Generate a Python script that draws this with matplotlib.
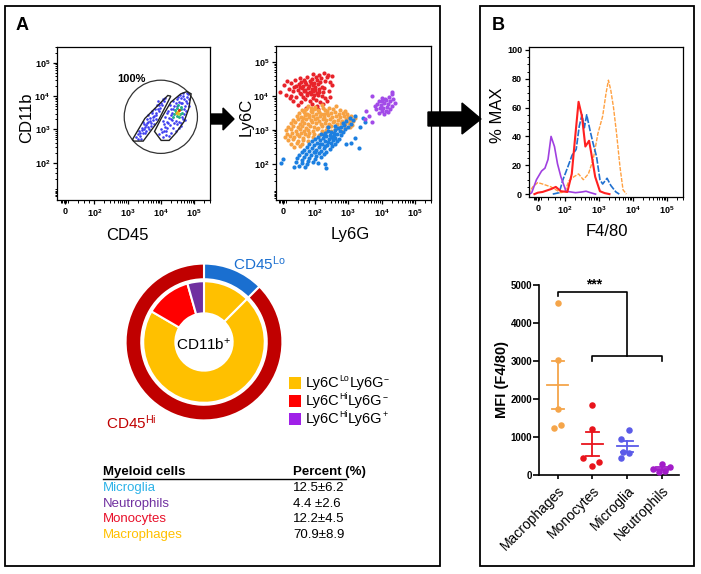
import numpy as np
import matplotlib
matplotlib.use("Agg")
import matplotlib.pyplot as plt
from matplotlib.patches import Rectangle, Polygon, Circle

plt.rcParams['font.family'] = ['Liberation Sans', 'DejaVu Sans']
plt.rcParams['mathtext.fontset'] = 'custom'
plt.rcParams['mathtext.rm'] = 'Liberation Sans'
plt.rcParams['mathtext.it'] = 'Liberation Sans:italic'
plt.rcParams['mathtext.bf'] = 'Liberation Sans:bold'


def pts(s):
    a = np.array(s.split(), dtype=float).reshape(-1, 2)
    return a[:, 0], a[:, 1]


# ---------------- data (log10 decades) ----------------
# CD45 / CD11b events, panel A first dot plot
cd11b_left_gate = """
3.25 2.76 3.30 2.85 3.38 2.80 3.35 2.95 3.45 2.90 3.42 3.05 3.50 3.00 3.55 3.12
3.48 3.15 3.60 3.08 3.62 3.22 3.70 3.18 3.58 3.30 3.68 3.35 3.75 3.28 3.80 3.40
3.72 3.48 3.85 3.50 3.90 3.62 3.82 3.60 3.95 3.72 4.00 3.80 3.92 3.85 4.05 3.90
4.12 3.95 3.65 3.00 3.52 2.88 3.40 2.72 3.78 3.15 3.86 3.30 3.30 2.70 3.62 3.42
3.98 3.65 3.46 3.22 3.56 2.96 3.70 3.10 3.88 3.72 4.08 3.85 3.36 2.88 3.44 2.98
3.58 3.18 3.66 3.26 3.76 3.38 3.84 3.44 3.93 3.56 4.02 3.72 3.53 3.06 3.74 3.54
"""
cd11b_right_gate = """
3.95 2.85 4.05 2.78 4.15 2.82 4.00 3.00 4.10 2.95 4.20 3.05 4.30 2.90 4.08 3.15
4.18 3.22 4.28 3.12 4.38 3.05 4.45 2.95 4.25 3.35 4.35 3.28 4.60 3.20 4.55 3.05
4.35 3.50 4.70 3.45 4.72 3.70 4.65 3.80 4.55 3.82 4.45 3.78 4.60 3.95 4.70 3.90
4.78 3.98 4.80 3.80 4.75 3.55 4.68 3.30 4.50 3.90 4.40 3.70 4.20 3.48 4.12 3.38
4.30 3.62 4.82 4.05 4.15 2.95 4.22 3.55 4.05 3.25 4.25 2.80 4.50 3.15 4.62 3.10
4.85 3.70 4.78 4.10 4.40 3.18 4.32 3.42 4.58 4.02 4.68 4.08 4.02 2.92 4.12 3.06
4.22 3.20 4.30 3.30 4.38 3.62 4.48 3.70 4.62 3.78 4.70 3.62 4.76 3.85 4.66 4.00
4.52 3.96 4.36 3.84 4.28 3.72 4.46 3.26 4.56 3.22 4.64 3.38 4.74 3.28 4.84 3.90
"""
cd11b_core_green = """
4.40 3.45 4.48 3.40 4.55 3.38 4.50 3.64 4.60 3.60 4.62 3.68 4.42 3.58 4.52 3.72
4.65 3.50 4.45 3.52 4.58 3.45 4.38 3.36
"""
cd11b_core_hot = "4.52 3.52 4.56 3.57 4.49 3.48 4.54 3.46"

# Ly6G / Ly6C events, panel A second dot plot
ly6_red = """
1.95 4.66 2.12 4.62 2.27 4.68 2.41 4.63 2.52 4.58 1.56 4.54 1.79 4.57 1.91 4.51
2.04 4.56 2.19 4.52 2.36 4.55 1.18 4.43 1.41 4.47 1.61 4.41 1.69 4.48 1.86 4.44
1.97 4.39 2.06 4.47 2.16 4.42 2.31 4.45 2.47 4.40 1.09 4.33 1.31 4.37 1.46 4.31
1.54 4.36 1.66 4.30 1.76 4.36 1.84 4.29 1.94 4.33 2.11 4.35 2.21 4.28 2.51 4.32
1.24 4.22 1.39 4.26 1.51 4.19 1.63 4.24 1.73 4.18 1.81 4.25 1.91 4.21 2.01 4.26
2.14 4.20 2.29 4.23 0.98 4.12 1.36 4.14 1.56 4.10 1.69 4.16 1.86 4.11 1.96 4.15
2.06 4.09 2.26 4.13 2.43 4.16 1.14 4.04 1.29 4.01 1.61 4.05 1.79 4.02 1.89 4.07
2.09 4.03 2.21 3.99 1.26 3.94 1.44 3.97 1.71 3.92 1.96 3.95 2.04 3.89 2.31 3.93
2.46 3.97 1.36 3.86 1.59 3.83 1.86 3.85 2.16 3.81 2.36 3.86 1.51 3.74 1.91 3.77
2.06 3.71 2.26 3.75 1.76 3.64 2.11 3.62 1.72 4.40 1.88 4.37 1.58 4.27 2.00 4.19
1.77 4.08 1.67 3.98 2.13 4.12 1.98 4.02
"""
ly6_orange = """
1.80 3.71 2.02 3.68 2.21 3.73 2.42 3.66 2.63 3.70 1.62 3.58 1.75 3.63 1.88 3.57
1.99 3.62 2.10 3.59 2.25 3.64 2.38 3.57 2.55 3.61 2.75 3.58 2.90 3.55 1.55 3.49
1.68 3.53 1.79 3.47 1.92 3.52 2.03 3.48 2.14 3.54 2.27 3.46 2.36 3.51 2.48 3.49
2.61 3.53 2.72 3.47 2.85 3.50 2.98 3.46 1.48 3.41 1.60 3.37 1.72 3.43 1.83 3.38
1.95 3.42 2.06 3.36 2.17 3.41 2.29 3.39 2.40 3.43 2.52 3.37 2.63 3.42 2.76 3.38
2.88 3.41 2.99 3.37 3.10 3.40 3.20 3.36 1.35 3.29 1.50 3.32 1.63 3.27 1.76 3.31
1.88 3.28 2.00 3.33 2.12 3.27 2.24 3.31 2.35 3.28 2.47 3.32 2.58 3.26 2.70 3.30
2.82 3.27 2.94 3.31 3.05 3.28 3.15 3.25 1.30 3.19 1.42 3.22 1.56 3.18 1.69 3.21
1.81 3.17 1.93 3.22 2.05 3.19 2.18 3.16 2.30 3.21 2.42 3.18 2.55 3.22 2.67 3.17
2.79 3.20 2.91 3.16 3.02 3.19 3.13 3.15 1.22 3.09 1.37 3.12 1.50 3.08 1.62 3.11
1.74 3.07 1.86 3.12 1.98 3.09 2.10 3.06 2.22 3.11 2.36 3.08 2.50 3.12 2.63 3.07
2.76 3.10 2.90 3.06 3.05 3.09 1.15 2.99 1.30 3.02 1.45 2.98 1.57 3.03 1.70 2.97
1.82 3.01 1.95 2.98 2.08 3.02 2.21 2.97 2.34 3.01 2.48 2.98 2.62 3.02 2.80 2.97
1.18 2.89 1.33 2.92 1.48 2.88 1.60 2.91 1.73 2.87 1.85 2.92 1.98 2.89 2.12 2.86
2.30 2.90 1.12 2.79 1.27 2.82 1.40 2.78 1.53 2.81 1.66 2.77 1.80 2.81 1.95 2.78
1.20 2.69 1.35 2.72 1.50 2.68 1.65 2.71 1.82 2.67 1.30 2.59 1.47 2.62 1.62 2.58
1.40 2.49 1.58 2.52 1.70 3.56 1.85 3.45 2.20 3.48 2.32 3.60 1.65 3.35 1.90 3.64
"""
ly6_blue = """
3.20 3.42 3.05 3.35 3.15 3.28 2.95 3.25 3.08 3.18 2.88 3.15 3.00 3.10 2.80 3.08
2.92 3.02 2.70 3.05 2.62 3.00 2.75 2.97 2.85 2.93 2.50 2.95 2.40 2.98 2.58 2.90
2.68 2.88 2.78 2.84 2.30 2.92 2.45 2.86 2.20 2.87 2.35 2.82 2.52 2.80 2.62 2.77
2.72 2.74 2.10 2.80 2.25 2.76 2.42 2.73 2.55 2.70 2.66 2.66 2.00 2.74 2.15 2.70
2.32 2.66 2.48 2.62 2.60 2.58 1.92 2.66 2.06 2.62 2.22 2.58 2.38 2.55 2.52 2.51
1.85 2.58 1.98 2.54 2.12 2.50 2.28 2.47 2.45 2.43 1.78 2.50 1.92 2.46 2.05 2.42
2.20 2.39 2.35 2.36 1.70 2.42 1.85 2.38 1.98 2.34 2.12 2.31 2.28 2.28 1.62 2.34
1.76 2.30 1.90 2.26 2.05 2.22 2.20 2.19 1.55 2.25 1.70 2.21 1.84 2.17 2.00 2.13
1.48 2.16 1.64 2.12 1.80 2.08 1.96 2.04 1.45 2.06 1.62 2.02 1.78 1.98 2.10 2.02
1.55 1.94 1.72 1.90 2.30 1.98 1.00 2.02 1.38 1.90 2.35 1.88 1.05 2.15 3.50 3.22
3.35 3.10 3.45 3.35 3.32 2.47 3.10 2.60 3.20 2.75 2.95 2.58 2.40 3.10 2.60 3.12
2.85 3.20 2.28 2.84 2.48 2.78 2.15 2.58 2.30 2.52 2.02 2.36 2.58 2.84 2.40 2.64
"""
ly6_purple = """
4.00 3.95 4.10 3.92 4.22 3.98 3.92 3.86 4.02 3.84 4.12 3.88 4.25 3.85 4.35 3.90
3.88 3.76 3.98 3.74 4.08 3.78 4.18 3.75 4.30 3.72 3.95 3.66 4.05 3.64 4.15 3.68
4.25 3.62 4.02 3.55 4.12 3.57 3.85 3.62 4.32 4.05 4.40 3.80 3.80 3.70 4.08 3.48
3.93 3.50 4.20 3.52 3.72 4.01 3.50 3.32 3.72 3.22 4.30 4.11 3.55 3.55 3.62 3.40
"""

# F4/80 histograms (% MAX) on the same decade axis
f480_purple_u = [0.95, 1.02, 1.16, 1.31, 1.41, 1.50, 1.59, 1.69, 1.78, 1.88, 2.03, 2.31, 2.50, 2.62, 2.75, 2.90]
f480_purple_y = [0, 1, 10, 16, 18, 24, 40, 33, 21, 12, 2, 1, 1.5, 2, 1, 0]
f480_orange_u = [0.92, 1.05, 1.20, 1.34, 1.59, 1.73, 1.88, 2.00, 2.11, 2.26, 2.40, 2.54, 2.69, 2.83,
                 2.97, 3.11, 3.21, 3.28, 3.35, 3.43, 3.52, 3.62, 3.71, 3.81]
f480_orange_y = [0, 5, 8, 7, 5, 3, 1, 2, 9, 12, 14, 10, 14, 24, 42, 54, 70, 79, 72, 60, 42, 19, 3, 0]
f480_red_u = [1.10, 1.20, 1.34, 1.59, 1.73, 1.88, 2.07, 2.20, 2.29, 2.40, 2.50, 2.60, 2.71, 2.77,
              2.89, 3.03, 3.17, 3.31]
f480_red_y = [0, 1, 1.5, 3.5, 5, 2, 1.5, 14, 37, 64, 54, 33, 37, 29, 12, 2, 0.7, 0]
f480_blue_u = [1.64, 1.83, 1.94, 2.07, 2.21, 2.33, 2.42, 2.50, 2.57, 2.64, 2.74, 2.83, 2.93, 3.03,
               3.11, 3.24, 3.35, 3.50, 3.60]
f480_blue_y = [0, 1, 10, 18, 27, 31, 47, 55, 46, 55, 44, 35, 26, 10, 7, 11, 6, 1.5, 0]

# MFI (F4/80) per population
groups = ['Macrophages', 'Monocytes', 'Microglia', 'Neutrophils']
mfi_macrophages = [4530, 3030, 1750, 1310, 1250]
mfi_monocytes = [1840, 1200, 450, 340, 250]
mfi_microglia = [1180, 960, 610, 570, 440]
mfi_neutrophils = [300, 210, 150, 110, 70]
jitter_macrophages = [0, 0, 0, 0.1, -0.12]
jitter_monocytes = [0, 0, -0.26, 0.2, 0]
jitter_microglia = [0.05, -0.17, -0.12, 0.05, -0.17]
jitter_neutrophils = [0, 0.24, -0.26, 0.08, -0.08]
mfi_colors = ['#F5A54A', '#E8141C', '#5B5BE8', '#A21CC8']

# Donut: CD45 level (outer) and myeloid subsets (inner), percent of CD11b+
cd45_labels = ['CD45Lo', 'CD45Hi']
cd45_share = [12.5, 87.5]
subset_share = [12.5, 70.9, 12.2, 4.4]  # microglia, macrophages, monocytes, neutrophils

# Table
table_cells = ['Microglia', 'Neutrophils', 'Monocytes', 'Macrophages']
table_percent = ['12.5\u00b16.2', '4.4 \u00b12.6', '12.2\u00b14.5', '70.9\u00b18.9']
table_colors = ['#2DB3E8', '#7030A0', '#E8102A', '#FFC000']

# legend: (marker, superscript) pairs
legend_labels = [[('Ly6C', 'Lo'), ('Ly6G', '\u2212')],
                 [('Ly6C', 'Hi'), ('Ly6G', '\u2212')],
                 [('Ly6C', 'Hi'), ('Ly6G', '+')]]
legend_colors = ['#FFC000', '#FF0000', '#A020E8']

# ---------------- figure ----------------
W, H = 701, 574
fig = plt.figure(figsize=(W / 100, H / 100), dpi=100)


def box(x0, y0, x1, y1):
    return fig.add_axes([x0 / W, 1 - y1 / H, (x1 - x0) / W, (y1 - y0) / H])


dec_labels = [r'$\mathbf{10^{2}}$', r'$\mathbf{10^{3}}$', r'$\mathbf{10^{4}}$', r'$\mathbf{10^{5}}$']
log_minor = [d + np.log10(k) for d in (2, 3, 4) for k in range(2, 10)] + [5 + np.log10(2), 5 + np.log10(3)]


def log_axis(ax, which, zero_pos, show_zero):
    crowd = [zero_pos - 0.12, zero_pos - 0.08, zero_pos - 0.04, zero_pos, zero_pos + 0.04,
             zero_pos + 0.08, 1.5, 1.7, 1.85]
    if which == 'x':
        ax.set_xticks(([zero_pos] if show_zero else []) + [2, 3, 4, 5])
        ax.set_xticklabels((['0'] if show_zero else []) + dec_labels)
        ax.set_xticks(log_minor + crowd, minor=True)
    else:
        ax.set_yticks([2, 3, 4, 5])
        ax.set_yticklabels(dec_labels)
        ax.set_yticks(log_minor + crowd, minor=True)


def frame(ax):
    ax.tick_params(which='major', direction='out', length=3, width=0.9, pad=2, labelsize=6.5)
    ax.tick_params(which='minor', direction='out', length=1.8, width=0.7)
    for lab in ax.get_xticklabels() + ax.get_yticklabels():
        lab.set_fontweight('bold')
    for sp in ax.spines.values():
        sp.set_linewidth(0.9)


# --- dot plot 1: CD45 vs CD11b
ax1 = box(57, 47, 210, 200)
ax1.set_xlim(0.88, 5.38)
ax1.set_ylim(0.88, 5.38)
u, v = pts(cd11b_left_gate)
ax1.scatter(u, v, s=3.5, c='#3F3FF0', linewidths=0)
u, v = pts(cd11b_right_gate)
ax1.scatter(u, v, s=3.5, c='#3F3FF0', linewidths=0)
u, v = pts(cd11b_core_green)
ax1.scatter(u, v, s=4.5, c='#22B08A', linewidths=0)
u, v = pts(cd11b_core_hot)
ax1.scatter(u, v, s=5, c=['#E8D020', '#E03010', '#F0A020', '#C8D030'], linewidths=0)
ax1.add_patch(Circle((4.0, 3.38), 1.10, fill=False, ec='#333333', lw=0.9))
ax1.add_patch(Polygon([(3.15, 2.70), (3.52, 3.33), (4.21, 4.02), (4.30, 4.00), (3.91, 3.24),
                       (3.47, 2.65), (3.18, 2.65)], closed=True, fill=False, ec='#222222', lw=1.0))
ax1.add_patch(Polygon([(3.81, 2.94), (4.01, 3.33), (4.30, 3.82), (4.60, 4.07), (4.79, 4.14),
                       (4.91, 4.07), (4.84, 3.63), (4.70, 3.24), (4.45, 2.89), (4.25, 2.67),
                       (4.01, 2.67)], closed=True, fill=False, ec='#222222', lw=1.0))
ax1.text(3.12, 4.52, '100%', fontsize=8, fontweight='bold', ha='center', va='center')
log_axis(ax1, 'x', 1.12, True)
log_axis(ax1, 'y', 1.12, False)
frame(ax1)

# --- dot plot 2: Ly6G vs Ly6C
ax2 = box(276, 46, 431, 200)
ax2.set_xlim(0.85, 5.41)
ax2.set_ylim(0.93, 5.38)
for s_, col in [(ly6_red, '#E8232A'), (ly6_orange, '#F7A243'), (ly6_blue, '#1C7FE0'),
                (ly6_purple, '#A24BE8')]:
    u, v = pts(s_)
    ax2.scatter(u, v, s=9, c=col, linewidths=0)
log_axis(ax2, 'x', 1.06, True)
log_axis(ax2, 'y', 1.12, False)
frame(ax2)

# --- histogram F4/80
ax3 = box(529, 47, 683, 197)
ax3.set_xlim(0.94, 5.31)
ax3.set_ylim(-2, 102)
ax3.plot(f480_orange_u, f480_orange_y, color='#FFA040', lw=1.0, dashes=(3, 1))
ax3.plot(f480_blue_u, f480_blue_y, color='#2070D0', lw=1.2, dashes=(4, 1))
ax3.plot(f480_purple_u, f480_purple_y, color='#A040E0', lw=1.2)
ax3.plot(f480_red_u, f480_red_y, color='#FF2020', lw=1.5)
log_axis(ax3, 'x', 1.2, True)
ax3.set_yticks([0, 20, 40, 60, 80, 100])
ax3.set_yticks(np.arange(0, 101, 5), minor=True)
frame(ax3)

# --- MFI scatter
ax4 = box(539, 285, 679, 475)
ax4.set_xlim(-0.54, 3.49)
ax4.set_ylim(0, 5000)
mfi = [mfi_macrophages, mfi_monocytes, mfi_microglia, mfi_neutrophils]
jit = [jitter_macrophages, jitter_monocytes, jitter_microglia, jitter_neutrophils]
for i, (vals, jj, col) in enumerate(zip(mfi, jit, mfi_colors)):
    vals = np.array(vals, dtype=float)
    ax4.scatter(i + np.array(jj), vals, s=22, color=col, linewidths=0, zorder=3, clip_on=False)
    m = vals.mean()
    sem = vals.std(ddof=1) / np.sqrt(len(vals))
    ax4.plot([i - 0.3, i + 0.3], [m, m], color=col, lw=1.3)
    ax4.plot([i, i], [m - sem, m + sem], color=col, lw=1.3)
    ax4.plot([i - 0.18, i + 0.18], [m + sem, m + sem], color=col, lw=1.3)
    ax4.plot([i - 0.18, i + 0.18], [m - sem, m - sem], color=col, lw=1.3)
# significance brackets
ax4.plot([0, 0, 2, 2], [4700, 4810, 4810, 3120], color='black', lw=1.2, clip_on=False)
ax4.plot([1, 1, 3, 3], [3000, 3120, 3120, 3000], color='black', lw=1.2, clip_on=False)
ax4.text(1.05, 4830, '***', ha='center', va='bottom', fontsize=10, fontweight='bold')
ax4.set_xticks(range(4))
ax4.set_xticklabels(groups, rotation=45, ha='right', rotation_mode='anchor', fontsize=10)
ax4.set_yticks(range(0, 5001, 1000))
ax4.spines['top'].set_visible(False)
ax4.spines['right'].set_visible(False)
ax4.tick_params(axis='y', length=4, width=1.2, pad=1, labelsize=7)
ax4.tick_params(axis='x', length=3, width=1.2, pad=3)
for lab in ax4.get_yticklabels():
    lab.set_fontweight('bold')
for sp in ax4.spines.values():
    sp.set_linewidth(1.2)

# --- donut
ax5 = box(124, 262, 284, 422)
ax5.pie(cd45_share, radius=1.0, colors=['#1A6FD0', '#C00000'], startangle=90, counterclock=False,
        wedgeprops=dict(width=0.2, edgecolor='white', linewidth=1.5))
ax5.pie(subset_share, radius=0.775, colors=['#FFC000', '#FFC000', '#FF0000', '#7030A0'],
        startangle=90, counterclock=False, wedgeprops=dict(width=0.41, edgecolor='white', linewidth=1.5))
ax5.set_xlim(-1.02, 1.02)
ax5.set_ylim(-1.02, 1.02)
ax5.set_aspect('equal')
ax5.axis('off')

# --- overlay in pixel coordinates
ov = fig.add_axes([0, 0, 1, 1])
ov.set_xlim(0, W)
ov.set_ylim(H, 0)
ov.axis('off')
ov.patch.set_alpha(0)
ov.add_patch(Rectangle((5, 6), 435, 560, fill=False, ec='black', lw=1.3))
ov.add_patch(Rectangle((480, 6), 214, 560, fill=False, ec='black', lw=1.3))
ov.add_patch(Polygon([(211, 114), (223, 114), (223, 108), (234, 119), (223, 130), (223, 124), (211, 124)],
                     closed=True, fc='black', ec='black'))
ov.add_patch(Polygon([(428, 112), (462, 112), (462, 103), (481, 119), (462, 134), (462, 126), (428, 126)],
                     closed=True, fc='black', ec='black'))
ov.text(22, 25, 'A', fontsize=13, fontweight='bold', ha='center', va='center')
ov.text(498, 25, 'B', fontsize=13, fontweight='bold', ha='center', va='center')
ov.text(27, 118, 'CD11b', fontsize=12, rotation=90, ha='center', va='center')
ov.text(127, 235, 'CD45', fontsize=12, ha='center', va='center')
ov.text(246, 117, 'Ly6C', fontsize=12, rotation=90, ha='center', va='center')
ov.text(350, 235, 'Ly6G', fontsize=12, ha='center', va='center')
ov.text(498, 115, '% MAX', fontsize=12, rotation=90, ha='center', va='center')
ov.text(607, 232, 'F4/80', fontsize=12, ha='center', va='center')
ov.text(502, 380, 'MFI (F4/80)', fontsize=10.5, fontweight='bold', rotation=90, ha='center', va='center')

ov.text(204, 345, r'CD11b$^{+}$', fontsize=11, ha='center', va='center')
ov.text(233, 264, r'CD45$^{\rm Lo}$', fontsize=11, color='#1A6FD0', ha='left', va='center')
ov.text(106, 423, r'CD45$^{\rm Hi}$', fontsize=11, color='#C00000', ha='left', va='center')


def sup_label(x, y, parts, size):
    # chain of normal text + small raised text, each placed after the previous one
    base = ov.text(x, y, parts[0][0], fontsize=size, ha='left', va='center')
    prev = base
    for j, (main, sup) in enumerate(parts):
        if j > 0:
            prev = ov.annotate(main, xy=(1, 0), xycoords=(prev, base), fontsize=size,
                               ha='left', va='bottom')
        prev = ov.annotate(sup, xy=(1, 0.5), xycoords=prev, fontsize=size * 0.6,
                           ha='left', va='bottom')


for k, (parts, col) in enumerate(zip(legend_labels, legend_colors)):
    yy = 383 + 18 * k
    ov.add_patch(Rectangle((289, yy - 6), 12, 12, fc=col, ec='none'))
    sup_label(306, yy, parts, 10.5)

ov.text(103, 472, 'Myeloid cells', fontsize=9.5, fontweight='bold', ha='left', va='center')
ov.text(293, 472, 'Percent (%)', fontsize=9.5, fontweight='bold', ha='left', va='center')
ov.plot([103, 346], [479, 479], color='black', lw=1.0)
for k, (name, pc, col) in enumerate(zip(table_cells, table_percent, table_colors)):
    yy = 488 + 15.7 * k
    ov.text(103, yy, name, fontsize=9.5, color=col, ha='left', va='center')
    ov.text(293, yy, pc, fontsize=9.5, ha='left', va='center')

fig.savefig('out.png', dpi=100)
